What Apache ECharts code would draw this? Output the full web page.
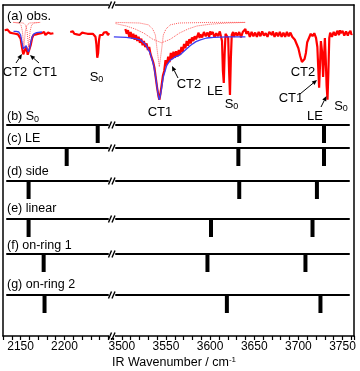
<!DOCTYPE html>
<html>
<head>
<meta charset="utf-8">
<script src="https://cdn.jsdelivr.net/npm/echarts@6/dist/echarts.min.js"></script>
<style>
  html, body { margin: 0; padding: 0; background: #fff; }
  #chart { width: 360px; height: 371px; }
</style>
</head>
<body>
<div id="chart"></div>
<script>
// ---- data (wavenumber / cm-1, relative intensity) ----
// observed spectrum, 2130-2190 region
const obsLeftA = [
  [2133, 0.08], [2134.5, 0.05], [2136, 0.09], [2137.5, 0.06], [2139, 0.04], [2140.5, 0.07],
  [2142, 0.03], [2143.5, 0.06], [2145, 0.02], [2146.5, 0.05], [2148, 0.01], [2149.5, 0.02],
  [2151, -0.06], [2152.5, -0.2], [2154, -0.32], [2155, -0.34], [2156, -0.25], [2157, -0.2],
  [2158, -0.24], [2159, -0.33], [2160, -0.35], [2161, -0.3], [2162.5, -0.16], [2164, -0.05],
  [2165.5, 0.0], [2167, 0.03], [2168.5, 0.01], [2170, 0.04], [2171.5, 0.02], [2173, 0.05],
  [2174.5, 0.03], [2176, 0.02], [2177.5, 0.05], [2179, 0.0], [2180.5, -0.01], [2182, 0.04],
  [2183.5, 0.07], [2185, 0.02], [2186.5, 0.04], [2188, 0.03]
];
// observed spectrum, 2205-2250 region
const obsLeftB = [
  [2207, 0.05], [2208.5, 0.03], [2210, 0.06], [2211.5, 0.02], [2213, 0.04], [2214.5, 0.01],
  [2216, 0.03], [2217.5, 0.0], [2219, 0.02], [2220.5, 0.04], [2222, 0.01], [2223.5, 0.03],
  [2225, 0.0], [2226.5, 0.02], [2228, -0.01], [2229.5, 0.02], [2231, 0.0], [2232.5, 0.02],
  [2234, 0.0], [2235.5, -0.03], [2236.5, -0.15], [2237.5, -0.38], [2238.5, -0.3], [2239.5, -0.08],
  [2240.5, 0.0], [2242, 0.03], [2243.5, 0.0], [2245, 0.04], [2246.5, 0.01], [2248, 0.05],
  [2249.5, 0.0], [2251, 0.03]
];
// observed spectrum, 3500-3760 region
const obsRight = [
  [3504, 0.1], [3505.5, 0.02], [3507, 0.08], [3508.5, -0.04], [3510, 0.05], [3511.5, -0.06],
  [3513, 0.02], [3514.5, -0.08], [3516, 0.0], [3517.5, -0.1], [3519, -0.03], [3520.5, -0.13],
  [3522, -0.06], [3523.5, -0.17], [3525, -0.1], [3526.5, -0.2], [3528, -0.14], [3529.5, -0.25],
  [3531, -0.2], [3532.5, -0.32], [3534, -0.3], [3535.5, -0.45], [3537, -0.55], [3538.5, -0.72],
  [3540, -0.88], [3541.5, -1.02], [3542.5, -1.08], [3543.5, -1.0], [3545, -0.85], [3546.5, -0.68],
  [3548, -0.6], [3549.5, -0.42], [3551, -0.5], [3552.5, -0.36], [3554, -0.45], [3555.5, -0.3],
  [3557, -0.4], [3558.5, -0.28], [3560, -0.38], [3561.5, -0.27], [3563, -0.36], [3564.5, -0.25],
  [3566, -0.33], [3567.5, -0.2], [3569, -0.28], [3570.5, -0.15], [3572, -0.22], [3573.5, -0.1],
  [3575, -0.18], [3576.5, -0.07], [3578, -0.14], [3579.5, -0.04], [3581, -0.1], [3582.5, -0.02],
  [3584, -0.07], [3586, 0.0], [3587, 0.04], [3588, -0.05], [3589, 0.01], [3590, 0.02],
  [3591, -0.04], [3592, -0.03], [3593, 0.05], [3594, 0.03], [3595, -0.02], [3596, -0.04],
  [3597, 0.04], [3598, 0.02], [3599, -0.03], [3600, 0.06], [3601, 0.01], [3602, -0.02],
  [3603, 0.05], [3604, 0.04], [3605, -0.04], [3606, -0.03], [3607, 0.03], [3608, 0.05],
  [3609, -0.02], [3610, 0.0], [3611, 0.06], [3612, 0.03], [3613.5, -0.1], [3614.5, -0.6],
  [3615.5, -0.8], [3616.5, -0.3], [3617.5, 0.02], [3619, 0.0], [3620.5, -0.05], [3621.5, -0.6],
  [3622.5, -1.0], [3623.5, -0.4], [3624.5, 0.0], [3625, 0.03], [3626, 0.05], [3627, -0.03],
  [3628, -0.02], [3629, 0.04], [3630, 0.06], [3631, -0.01], [3632, 0.0], [3633, 0.05],
  [3634, 0.03], [3635, -0.04], [3636, -0.03], [3637, 0.05], [3638, 0.04], [3639, 0.02],
  [3640, 0.1], [3641, 0.02], [3642, 0.0], [3643, 0.06], [3644, 0.05], [3645, -0.03],
  [3646, -0.02], [3647, 0.05], [3648, 0.04], [3649, -0.02], [3650, 0.0], [3651, 0.04],
  [3652, 0.06], [3653, -0.03], [3654, -0.01], [3655, 0.05], [3656, 0.03], [3657, -0.02],
  [3658, 0.0], [3659, 0.06], [3660, 0.05], [3661, -0.01], [3662, -0.02], [3663, 0.03],
  [3664, 0.04], [3665, -0.03], [3666, 0.01], [3667, 0.05], [3668, 0.08], [3669, 0.02],
  [3670, 0.0], [3671, 0.06], [3672, 0.04], [3673, -0.03], [3674, -0.02], [3675, 0.04],
  [3676, 0.03], [3677, -0.02], [3678, 0.0], [3679, 0.05], [3680, 0.05], [3681, -0.03],
  [3682, -0.02], [3683, 0.04], [3684, 0.03], [3685, -0.03], [3686, -0.01], [3687, 0.05],
  [3688, 0.04], [3689, -0.02], [3690, 0.0], [3691, 0.04], [3692, 0.02], [3693, -0.03],
  [3694, -0.04], [3696, -0.08], [3698, -0.15], [3700, -0.22], [3702, -0.35], [3704, -0.45],
  [3705.5, -0.48], [3707, -0.4], [3708.5, -0.3], [3710, -0.12], [3712, -0.05], [3714, 0.02],
  [3716, -0.02], [3718, 0.03], [3720, -0.05], [3721.5, -0.2], [3722.5, -0.55], [3723.5, -0.88],
  [3724.5, -0.5], [3725.5, -0.1], [3727, -0.3], [3728, -0.7], [3729, -0.4], [3730, -0.05],
  [3731, -0.4], [3732, -0.85], [3733, -1.08], [3734, -0.6], [3735, -0.05], [3736, 0.04],
  [3737, 0.03], [3738, -0.03], [3739, -0.02], [3740, 0.05], [3741, 0.06], [3742, -0.01],
  [3743, 0.0], [3744, 0.07], [3745, 0.05], [3746, 0.0], [3747, 0.08], [3748, 0.03],
  [3749, 0.02], [3750, 0.07], [3751, 0.06], [3752, -0.01], [3753, 0.0], [3754, 0.06],
  [3755, 0.05], [3756, -0.01], [3757, 0.03], [3758, 0.05], [3759, 0.07], [3760, 0.01], [3761, 0.02]
];
// fitted curves (blue)
const fitLeft = [
  [2143, 0.06], [2146, 0.06], [2149, 0.05], [2151, 0.0], [2152.5, -0.12], [2154, -0.23],
  [2155, -0.25], [2156, -0.21], [2157.3, -0.18], [2158.5, -0.23], [2159.8, -0.28], [2161, -0.24],
  [2162.5, -0.12], [2164, -0.03], [2166, 0.02], [2169, 0.04], [2175, 0.05]
];
const fitRight = [
  [3491, -0.03], [3505, -0.04], [3515, -0.06], [3521, -0.08], [3527, -0.16], [3532, -0.3],
  [3536, -0.5], [3538.5, -0.72], [3541, -0.98], [3542.5, -1.08], [3544, -0.98], [3547, -0.7],
  [3551, -0.5], [3555, -0.42], [3560, -0.37], [3566, -0.33], [3572, -0.25], [3578, -0.17],
  [3584, -0.11], [3589, -0.08], [3596, -0.05], [3604, -0.04], [3620, -0.03], [3640, -0.03]
];
// fitted components (red dotted)
const compLeftCT2 = [
  [2143, 0.21], [2149, 0.2], [2151.5, 0.16], [2153, 0.06], [2154.7, -0.2], [2156.3, 0.06],
  [2158, 0.16], [2161, 0.2], [2173, 0.21]
];
const compLeftCT1 = [
  [2143, 0.21], [2154, 0.2], [2156.8, 0.16], [2158.3, 0.06], [2160, -0.2], [2161.7, 0.06],
  [2163.3, 0.16], [2166, 0.2], [2173, 0.21]
];
const compRightCT1 = [
  [3493, 0.21], [3520, 0.2], [3530, 0.17], [3535, 0.1], [3538, 0.0], [3540, -0.25],
  [3542.5, -0.53], [3545, -0.25], [3547, 0.0], [3550, 0.1], [3555, 0.17], [3565, 0.2],
  [3600, 0.21], [3640, 0.21]
];
const compRightBroad = [
  [3493, 0.19], [3505, 0.15], [3515, 0.1], [3525, 0.03], [3535, -0.07], [3545, -0.13],
  [3555, -0.07], [3565, 0.03], [3575, 0.1], [3585, 0.15], [3600, 0.18], [3620, 0.2], [3640, 0.21]
];
// calculated stick spectra: [left-region lines], [right-region lines]
const panelNames = ['(b) S', '(c) LE', '(d) side', '(e) linear', '(f) on-ring 1', '(g) on-ring 2'];
const sticksLeft = [[2238], [2203], [2160], [2160], [2177], [2178]];
const sticksRight = [[3633, 3729], [3632, 3729], [3633, 3721], [3601, 3716], [3597, 3708], [3619, 3725]];

// ---- layout ----
const FONT = '"Liberation Sans", Arial, sans-serif';
const leftRange = [2130, 2253];
const rightRange = [3490, 3763];
const segL = { left: 2, width: 109 };
const segR = { left: 113, width: 241 };
const TOP = 5, BOTTOM = 336;
const baseY = [125, 148, 181, 219, 254, 295];
const stickLen = 18;
const RED = '#ff0000', BLUE = '#3c3cf0', PINK = '#ff5a5a';

const grids = [], xAxes = [], yAxes = [], series = [];

function addGrid(seg, top, height, range, xOpt, yOpt) {
  grids.push({ left: seg.left, width: seg.width, top: top, height: height });
  const gi = grids.length - 1;
  xAxes.push(Object.assign({
    type: 'value', gridIndex: gi, min: range[0], max: range[1], show: false,
    axisLine: { onZero: false }, splitLine: { show: false }
  }, xOpt || {}));
  yAxes.push(Object.assign({
    type: 'value', gridIndex: gi, show: false, splitLine: { show: false }
  }, yOpt || {}));
  return { x: xAxes.length - 1, y: yAxes.length - 1, g: gi };
}

// frame with the wavenumber axis
const bottomAxis = (range) => ({
  show: true, position: 'bottom', interval: 10,
  axisLine: { show: true, onZero: false, lineStyle: { color: '#000', width: 1.5 } },
  axisTick: { show: true, length: 4, lineStyle: { color: '#000', width: 1.2 } },
  axisLabel: {
    show: true, color: '#000', fontSize: 12, fontFamily: FONT, margin: 5,
    formatter: v => (v % 50 === 0 && v <= range[1] - 5 ? String(v) : '')
  }
});
const fL = addGrid(segL, TOP, BOTTOM - TOP, leftRange, bottomAxis(leftRange),
  { show: true, min: 0, max: 1, position: 'left', axisLine: { show: true, lineStyle: { color: '#000', width: 1.5 } }, axisTick: { show: false }, axisLabel: { show: false } });
const fR = addGrid(segR, TOP, BOTTOM - TOP, rightRange, bottomAxis(rightRange),
  { show: true, min: 0, max: 1, position: 'right', axisLine: { show: true, lineStyle: { color: '#000', width: 1.5 } }, axisTick: { show: false }, axisLabel: { show: false } });
// top frame lines
[fL.g, fR.g].forEach((gi, k) => {
  const r = k === 0 ? leftRange : rightRange;
  xAxes.push({
    type: 'value', gridIndex: gi, min: r[0], max: r[1], position: 'top',
    axisLine: { show: true, onZero: false, lineStyle: { color: '#000', width: 1.5 } },
    axisTick: { show: false }, axisLabel: { show: false }, splitLine: { show: false }
  });
});

// (a) observed spectrum panels
const obsY = { min: -1.3, max: 0.5 };
const oL = addGrid(segL, TOP, 108, leftRange, {}, obsY);
const oR = addGrid(segR, TOP, 108, rightRange, {}, obsY);

function line(ax, data, color, width, type, z) {
  series.push({
    type: 'line', xAxisIndex: ax.x, yAxisIndex: ax.y, data: data, showSymbol: false,
    symbol: 'none', smooth: false, z: z || 2, silent: true,
    lineStyle: { color: color, width: width, type: type || 'solid' }
  });
}
line(oL, compLeftCT2, PINK, 1, 'dotted', 1);
line(oL, compLeftCT1, PINK, 1, 'dotted', 1);
line(oL, obsLeftA, RED, 2.2, 'solid', 2);
line(oL, obsLeftB, RED, 2.2, 'solid', 2);
line(oL, fitLeft, BLUE, 1.3, 'solid', 3);
line(oR, compRightCT1, PINK, 1, 'dotted', 1);
line(oR, compRightBroad, PINK, 1, 'dotted', 1);
line(oR, obsRight, RED, 2.2, 'solid', 2);
line(oR, fitRight, BLUE, 1.3, 'solid', 3);

// (b)-(g) stick spectra panels; baselines are slightly inset from the frame
const pxPerL = segL.width / (leftRange[1] - leftRange[0]);
const pxPerR = segR.width / (rightRange[1] - rightRange[0]);
const panelRangeL = [leftRange[0] + 5 / pxPerL, leftRange[0] + 106 / pxPerL];
const panelRangeR = [rightRange[0] + 3 / pxPerR, rightRange[0] + 236 / pxPerR];
const segPL = { left: segL.left + 5, width: 101 };
const segPR = { left: segR.left + 3, width: 233 };
const baseAxis = {
  show: true, position: 'top',
  axisLine: { show: true, onZero: false, lineStyle: { color: '#000', width: 2 } },
  axisTick: { show: false }, axisLabel: { show: false }
};
baseY.forEach((y, i) => {
  [[segPL, panelRangeL, sticksLeft[i]], [segPR, panelRangeR, sticksRight[i]]].forEach(([seg, range, sticks]) => {
    const ax = addGrid(seg, y, stickLen, range, baseAxis, { min: 0, max: 1, inverse: true });
    series.push({
      type: 'bar', xAxisIndex: ax.x, yAxisIndex: ax.y, barWidth: 4, silent: true,
      itemStyle: { color: '#000' }, data: sticks.map(w => [w, 1])
    });
  });
});

// ---- annotations ----
const graphics = [];
const rich = {
  n: { fontSize: 13, fontFamily: FONT, fill: '#000', color: '#000' },
  s: { fontSize: 9, fontFamily: FONT, color: '#000', padding: [6, 0, 0, 0] },
  p: { fontSize: 8, fontFamily: FONT, color: '#000', padding: [0, 0, 7, 0] }
};
function text(x, y, str, align, size) {
  graphics.push({
    type: 'text', x: x, y: y, silent: true, z: 100,
    style: {
      text: str, fill: '#000', font: (size || 13) + 'px ' + FONT,
      textAlign: align || 'center', textVerticalAlign: 'middle',
      rich: { n: Object.assign({}, rich.n, { fontSize: size || 13 }), s: rich.s, p: rich.p }
    }
  });
}
function arrow(x1, y1, x2, y2) {
  const a = Math.atan2(y2 - y1, x2 - x1), h = 5, w = 2.2;
  const bx = x2 - h * Math.cos(a), by = y2 - h * Math.sin(a);
  graphics.push({ type: 'line', silent: true, z: 100, shape: { x1: x1, y1: y1, x2: bx, y2: by }, style: { stroke: '#000', lineWidth: 1 } });
  graphics.push({
    type: 'polygon', silent: true, z: 100,
    shape: { points: [[x2, y2], [bx + w * Math.sin(a), by - w * Math.cos(a)], [bx - w * Math.sin(a), by + w * Math.cos(a)]] },
    style: { fill: '#000' }
  });
}
// break marks "//"
[TOP, BOTTOM].concat(baseY).forEach(y => {
  graphics.push({ type: 'rect', silent: true, z: 90, shape: { x: 109, y: y - 2, width: 6, height: 4 }, style: { fill: '#fff' } });
  [0, 3.5].forEach(dx => {
    graphics.push({ type: 'line', silent: true, z: 100, shape: { x1: 108.5 + dx, y1: y + 3.5, x2: 111.5 + dx, y2: y - 3.5 }, style: { stroke: '#000', lineWidth: 1.4 } });
  });
});

text(7, 16, '(a) obs.', 'left');
panelNames.forEach((name, i) => {
  const ty = [117, 138.5, 172, 209, 245.5, 285][i];
  text(7, ty, i === 0 ? '{n|' + name + '}{s|0}' : name, 'left', 12.5);
});
text(15, 72, 'CT2'); arrow(16, 63, 22, 54);
text(45, 72, 'CT1'); arrow(39, 63, 30, 55);
text(96.5, 77, '{n|S}{s|0}');
text(160, 112, 'CT1');
text(189, 84, 'CT2'); arrow(178, 78, 172, 66);
text(215, 91, 'LE');
text(231.5, 104, '{n|S}{s|0}');
text(303, 72, 'CT2');
text(291, 98, 'CT1'); arrow(300, 94, 317, 80);
text(315, 116, 'LE'); arrow(321, 107, 326.5, 96);
text(341, 106, '{n|S}{s|0}');
text(174, 363, '{n|IR Wavenumber / cm}{p|-1}', 'center', 12.5);

const chart = echarts.init(document.getElementById('chart'), null, { renderer: 'canvas' });
chart.setOption({
  animation: false,
  backgroundColor: '#fff',
  grid: grids,
  xAxis: xAxes,
  yAxis: yAxes,
  series: series,
  graphic: graphics
});
</script>
</body>
</html>
